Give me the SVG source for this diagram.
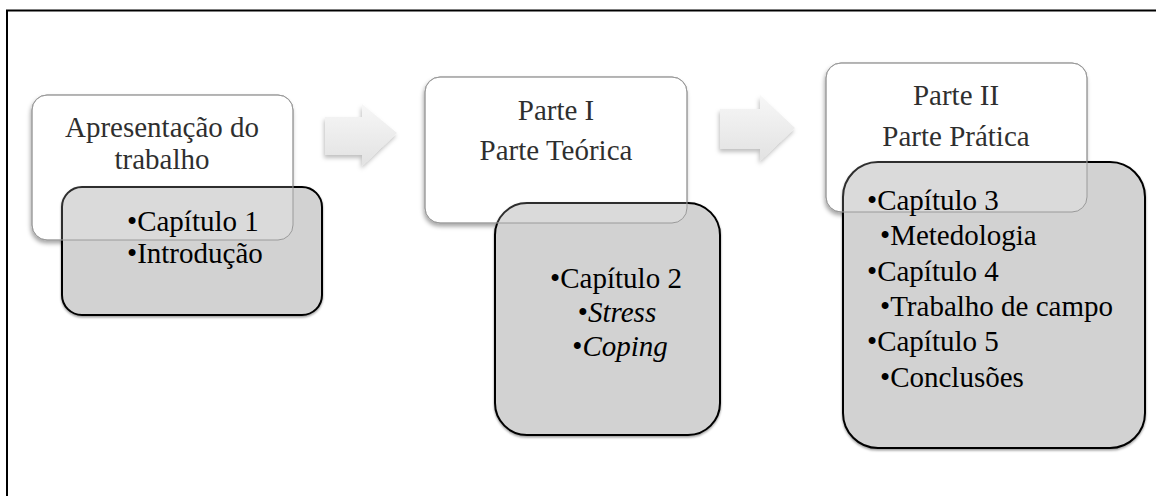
<svg xmlns="http://www.w3.org/2000/svg" width="1156" height="496" viewBox="0 0 1156 496">
<style>
  .t { font-family: "Liberation Serif", "Times New Roman", serif; font-size: 29px; fill: #000; }
  .c { text-anchor: middle; }
  .parent { fill: #ffffff; stroke: #9a9a9a; stroke-width: 1; filter: url(#sh); }
  .overlay { fill: #ffffff; fill-opacity: 0.18; stroke: #9a9a9a; stroke-width: 1; }
  .child { fill: #d2d2d2; stroke: #000; stroke-width: 2; filter: url(#sh2); }
  .arrow { fill: url(#ag); filter: url(#ash); }
</style>
<defs>
  <filter id="sh" x="-10%" y="-10%" width="120%" height="130%">
    <feDropShadow dx="-1" dy="3" stdDeviation="2" flood-color="#000" flood-opacity="0.35"/>
  </filter>
  <filter id="sh2" x="-10%" y="-10%" width="120%" height="130%">
    <feDropShadow dx="0" dy="1.5" stdDeviation="1" flood-color="#000" flood-opacity="0.4"/>
  </filter>
  <filter id="ash" x="-20%" y="-20%" width="140%" height="150%">
    <feDropShadow dx="-1" dy="3" stdDeviation="2" flood-color="#000" flood-opacity="0.25"/>
  </filter>
  <linearGradient id="ag" x1="0" y1="0" x2="0" y2="1">
    <stop offset="0" stop-color="#f7f7f7"/>
    <stop offset="1" stop-color="#e2e2e2"/>
  </linearGradient>
</defs>

<rect id="frame" x="7" y="10.5" width="1170" height="500" fill="none" stroke="#000" stroke-width="2"/>

<g id="connectors">
  <path class="arrow" d="M325,117 H362 V104 L397,133 L362,166 V155 H325 Z"/>
  <path class="arrow" d="M720,109 H760 V95 L795,128 L760,161 V149 H720 Z"/>
</g>

<g id="node-apresentacao">
  <rect class="parent" x="32" y="95" width="261" height="145" rx="15"/>
  <text class="t c" x="162" y="137">Apresentação do</text>
  <text class="t c" x="162" y="169">trabalho</text>
</g>
<g id="node-cap1">
  <rect class="child" x="62" y="187" width="260" height="128" rx="20"/>
</g>

<g id="node-parte1">
  <rect class="parent" x="425" y="77" width="262" height="146" rx="15"/>
  <text class="t c" x="556" y="120">Parte I</text>
  <text class="t c" x="556" y="160">Parte Teórica</text>
</g>
<g id="node-cap2">
  <rect class="child" x="495" y="203" width="225" height="232" rx="32"/>
</g>

<g id="node-parte2">
  <rect class="parent" x="826" y="63" width="261" height="149" rx="15"/>
  <text class="t c" x="956" y="105">Parte II</text>
  <text class="t c" x="956" y="146">Parte Prática</text>
</g>
<g id="node-cap3">
  <rect class="child" x="843" y="162" width="302" height="286" rx="35"/>
</g>

<g id="overlays">
  <rect class="overlay" x="32" y="95" width="261" height="145" rx="15"/>
  <rect class="overlay" x="425" y="77" width="262" height="146" rx="15"/>
  <rect class="overlay" x="826" y="63" width="261" height="149" rx="15"/>
</g>

<g id="node-cap1-text">
  <text class="t" x="127" y="231">•Capítulo 1</text>
  <text class="t" x="127" y="263">•Introdução</text>
</g>
<g id="node-cap2-text">
  <text class="t c" x="616" y="288">•Capítulo 2</text>
  <text class="t c" x="617" y="322">•<tspan font-style="italic">Stress</tspan></text>
  <text class="t c" x="620" y="356">•<tspan font-style="italic">Coping</tspan></text>
</g>
<g id="node-cap3-text">
  <text class="t" x="867" y="210">•Capítulo 3</text>
  <text class="t" x="880" y="245">•Metedologia</text>
  <text class="t" x="867" y="281">•Capítulo 4</text>
  <text class="t" x="880" y="316">•Trabalho de campo</text>
  <text class="t" x="867" y="351">•Capítulo 5</text>
  <text class="t" x="880" y="387">•Conclusões</text>
</g>
</svg>
